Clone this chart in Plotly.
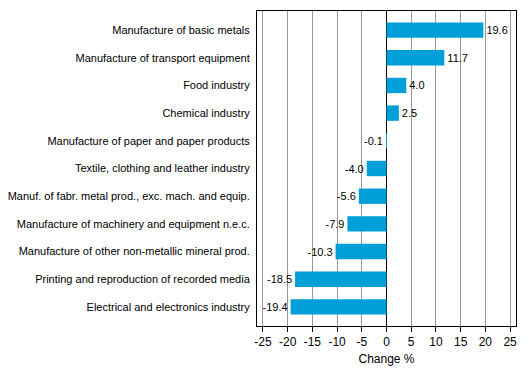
import plotly.graph_objects as go

categories = [
    "Manufacture of basic metals",
    "Manufacture of transport equipment",
    "Food industry",
    "Chemical industry",
    "Manufacture of paper and paper products",
    "Textile, clothing and leather industry",
    "Manuf. of fabr. metal prod., exc. mach. and equip.",
    "Manufacture of machinery and equipment n.e.c.",
    "Manufacture of other non-metallic mineral prod.",
    "Printing and reproduction of recorded media",
    "Electrical and electronics industry",
]
values = [19.6, 11.7, 4.0, 2.5, -0.1, -4.0, -5.6, -7.9, -10.3, -18.5, -19.4]
tick_vals = [-25, -20, -15, -10, -5, 0, 5, 10, 15, 20, 25]

fig = go.Figure(go.Bar(
    x=values, y=categories, orientation="h",
    marker=dict(color="#009FDA", line=dict(width=0)),
    width=0.555,
    text=[f"{v:.1f}" for v in values], textposition="outside",
    textfont=dict(size=11, color="black", family="Liberation Sans, Arial"),
    cliponaxis=False,
))

fig.update_layout(
    width=521, height=369,
    margin=dict(l=249, r=13, t=3, b=51, autoexpand=False),
    paper_bgcolor="white", plot_bgcolor="white",
    font=dict(family="Liberation Sans, Arial", size=11, color="black"),
    showlegend=False,
    xaxis=dict(
        range=[-26.2, 26.2], tickvals=tick_vals, ticktext=[str(t) for t in tick_vals],
        showgrid=True, gridcolor="#999999", gridwidth=1,
        zeroline=True, zerolinecolor="black", zerolinewidth=1,
        showline=True, linecolor="black", linewidth=1, mirror=True,
        ticks="outside", ticklen=5, tickcolor="black",
        tickfont=dict(size=12), automargin=False,
        title=dict(text="Change %", font=dict(size=12), standoff=6),
    ),
    yaxis=dict(
        categoryorder="array", categoryarray=categories,
        range=[10.69, -0.69], automargin=False,
        showgrid=False, zeroline=False,
        showline=True, linecolor="black", linewidth=1, mirror=True,
        ticks="", ticklabelstandoff=4,
        tickfont=dict(size=11),
    ),
)

fig.write_html("out.html")
